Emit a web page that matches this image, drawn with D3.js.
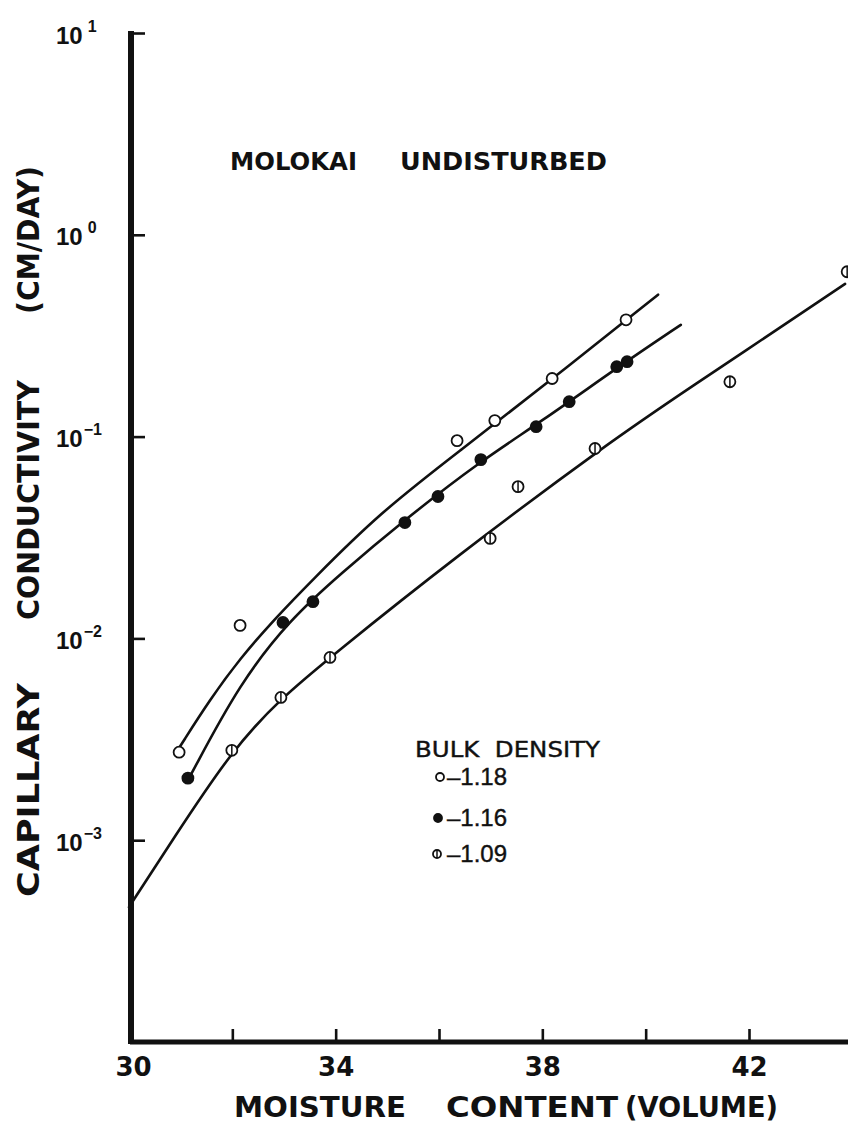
<!DOCTYPE html>
<html><head><meta charset="utf-8">
<script src="https://cdn.jsdelivr.net/npm/d3@7"></script>
<style>body{margin:0;background:#fff} svg{display:block}</style>
</head><body>
<svg id="c" width="848" height="1128"></svg>
<script>
// ---- data ----
const xTickValues = [32, 34, 36, 38, 40, 42];
const xLabelValues = [30, 34, 38, 42];
const yTickValues = [1e1, 1e0, 1e-1, 1e-2, 1e-3];
const yTickExponents = ["1", "0", "-1", "-2", "-3"];

// measured points (moisture %, K cm/day)
const bd118X = [30.97, 32.15, 36.35, 37.08, 38.19, 39.62];
const bd118K = [0.00273, 0.0116, 0.0955, 0.120, 0.194, 0.379];
const bd116X = [31.14, 32.98, 33.56, 35.34, 35.98, 36.81, 37.88, 38.52, 39.44, 39.64];
const bd116K = [0.00203, 0.0120, 0.0152, 0.0375, 0.0505, 0.0769, 0.112, 0.149, 0.222, 0.235];
const bd109X = [31.99, 32.94, 33.89, 36.99, 37.53, 39.02, 41.63, 43.90];
const bd109K = [0.00279, 0.0051, 0.00805, 0.0313, 0.0565, 0.0873, 0.187, 0.656];

// hand-drawn fitted curves
const curve118X = [30.99, 31.57, 32.15, 32.83, 33.50, 34.86, 36.41, 38.15, 40.24];
const curve118K = [0.00292, 0.00499, 0.00796, 0.01256, 0.01892, 0.0421, 0.0853, 0.189, 0.505];
const curve116X = [31.18, 32.15, 33.12, 34.08, 35.34, 36.79, 37.95, 39.50, 40.68];
const curve116K = [0.00207, 0.00605, 0.01242, 0.02075, 0.0388, 0.0752, 0.1172, 0.2244, 0.358];
const curve109X = [30.00, 30.85, 31.99, 32.94, 33.89, 36.25, 39.37, 40.66, 43.86];
const curve109K = [0.000466, 0.00101, 0.00279, 0.00505, 0.00805, 0.0246, 0.0966, 0.1614, 0.571];

const legendTitle = "BULK  DENSITY";
const legendLabels = ["\u20131.18", "\u20131.16", "\u20131.09"];
const legendTypes = ["open", "filled", "crossed"];
const titleWords = ["MOLOKAI", "UNDISTURBED"];
const yTitleWords = ["CAPILLARY", "CONDUCTIVITY", "(CM/DAY)"];
const xTitleWords = ["MOISTURE", "CONTENT", "(VOLUME)"];

// ---- drawing ----
const W = 848, H = 1128;
const svg = d3.select("#c");
const x = d3.scaleLinear().domain([30, 42]).range([129, 749]);
const y = d3.scaleLog().domain([1e-4, 1e1]).range([1042, 33]);
const bold = "'DejaVu Sans', sans-serif";

function zip(a, b) { return a.map((v, i) => [v, b[i]]); }
const series = [
  {pts: zip(bd118X, bd118K), curve: zip(curve118X, curve118K), type: "open"},
  {pts: zip(bd116X, bd116K), curve: zip(curve116X, curve116K), type: "filled"},
  {pts: zip(bd109X, bd109K), curve: zip(curve109X, curve109K), type: "crossed"}
];

const line = d3.line().x(d => x(d[0])).y(d => y(d[1])).curve(d3.curveBasis);

svg.append("g").selectAll("path").data(series).join("path")
  .attr("d", d => line(d.curve))
  .attr("fill", "none").attr("stroke", "#111").attr("stroke-width", 2.6)
  .attr("stroke-linecap", "round");

function marker(g, type, r) {
  g.append("circle").attr("r", r)
    .attr("fill", type === "filled" ? "#111" : "#fff")
    .attr("stroke", "#111").attr("stroke-width", 1.8);
  if (type === "crossed") {
    g.append("line").attr("x1", 0).attr("x2", 0).attr("y1", -r).attr("y2", r)
      .attr("stroke", "#111").attr("stroke-width", 1.5);
  }
}

series.forEach(s => {
  s.pts.forEach(p => {
    const g = svg.append("g").attr("transform", `translate(${x(p[0])},${y(p[1])})`);
    marker(g, s.type, 5.5);
  });
});

// X axis
const xAxisTicks = d3.axisBottom(x).tickValues(xTickValues).tickFormat("").tickSizeInner(-13).tickSizeOuter(0);
const gx = svg.append("g").attr("transform", `translate(0,${y(1e-4)})`).call(xAxisTicks);
gx.select(".domain").remove();
gx.selectAll(".tick line").attr("stroke", "#111").attr("stroke-width", 2.6);
svg.append("line").attr("x1", x(30) + 1).attr("x2", W).attr("y1", y(1e-4)).attr("y2", y(1e-4))
  .attr("stroke", "#111").attr("stroke-width", 5);

const xAxisLabels = d3.axisBottom(x).tickValues(xLabelValues).tickSize(0).tickPadding(26);
const gxl = svg.append("g").attr("transform", `translate(0,${y(1e-4)})`).call(xAxisLabels);
gxl.select(".domain").remove();
gxl.selectAll(".tick text").attr("font-family", bold).attr("font-weight", "bold")
  .attr("font-size", 26).attr("fill", "#111").attr("dy", "0.3em")
  .attr("transform", d => d === 30 ? "translate(4,0)" : null);

// Y axis
const yAxis = d3.axisLeft(y).tickValues(yTickValues).tickSizeInner(-14).tickSizeOuter(0).tickFormat("");
const gy = svg.append("g").attr("transform", `translate(${x(30) + 2},0)`).call(yAxis);
gy.select(".domain").remove();
gy.selectAll(".tick line").attr("stroke", "#111").attr("stroke-width", 2.6);
gy.selectAll(".tick").each(function(d, i) {
  const t = d3.select(this).append("text")
    .attr("x", -75).attr("y", 10).attr("text-anchor", "start")
    .attr("font-family", "'Liberation Sans', Arial, sans-serif").attr("font-weight", "bold")
    .attr("font-size", 24).attr("fill", "#111");
  t.append("tspan").text("10");
  const e = yTickExponents[i];
  t.append("tspan").attr("dx", e.startsWith("-") ? 1 : 5).attr("dy", -12)
    .attr("font-size", 16).text(e.replace("-", "\u2212"));
});
svg.append("line").attr("x1", x(30) + 2).attr("x2", x(30) + 2).attr("y1", y(1e1) - 2).attr("y2", y(1e-4) + 2)
  .attr("stroke", "#111").attr("stroke-width", 6);

// Title
const titleStarts = [230, 400], titleLens = [127, 207];
titleWords.forEach((w, i) => {
  svg.append("text").attr("x", titleStarts[i]).attr("y", 170).attr("font-family", bold).attr("font-weight", "bold")
    .attr("font-size", 24).attr("fill", "#111")
    .attr("textLength", titleLens[i]).attr("lengthAdjust", "spacingAndGlyphs").text(w);
});

// Y title
const yTitleCenters = [790, 500, 240];
const yTitleLens = [214, 240, 148];
yTitleWords.forEach((w, i) => {
  svg.append("text").attr("transform", `translate(39,${yTitleCenters[i]}) rotate(-90)`)
    .attr("text-anchor", "middle").attr("font-family", bold).attr("font-weight", "bold")
    .attr("font-size", 30).attr("fill", "#111")
    .attr("textLength", yTitleLens[i]).attr("lengthAdjust", "spacingAndGlyphs").text(w);
});

// X title
const xTitleStarts = [234, 446, 625];
const xTitleLens = [172, 172, 153];
xTitleWords.forEach((w, i) => {
  svg.append("text").attr("x", xTitleStarts[i]).attr("y", 1117)
    .attr("font-family", bold).attr("font-weight", "bold")
    .attr("font-size", 29).attr("fill", "#111")
    .attr("textLength", xTitleLens[i]).attr("lengthAdjust", "spacingAndGlyphs").text(w);
});

// Legend
const lg = svg.append("g");
lg.append("text").attr("x", 415).attr("y", 757).attr("font-family", "'DejaVu Sans', sans-serif")
  .attr("font-size", 21).attr("fill", "#111").attr("stroke", "#111").attr("stroke-width", 0.4)
  .attr("textLength", 185).attr("lengthAdjust", "spacingAndGlyphs")
  .attr("xml:space", "preserve").text(legendTitle);
legendLabels.forEach((lab, i) => {
  const cy = [777, 818, 854][i];
  const g = lg.append("g").attr("transform", `translate(${[440, 438, 437][i]},${cy})`);
  marker(g, legendTypes[i], 4);
  lg.append("text").attr("x", 447).attr("y", cy + 8).attr("font-family", "'Liberation Sans', Arial, sans-serif")
    .attr("font-size", 24).attr("fill", "#111").attr("stroke", "#111").attr("stroke-width", 0.4).text(lab);
});
</script>
</body></html>
